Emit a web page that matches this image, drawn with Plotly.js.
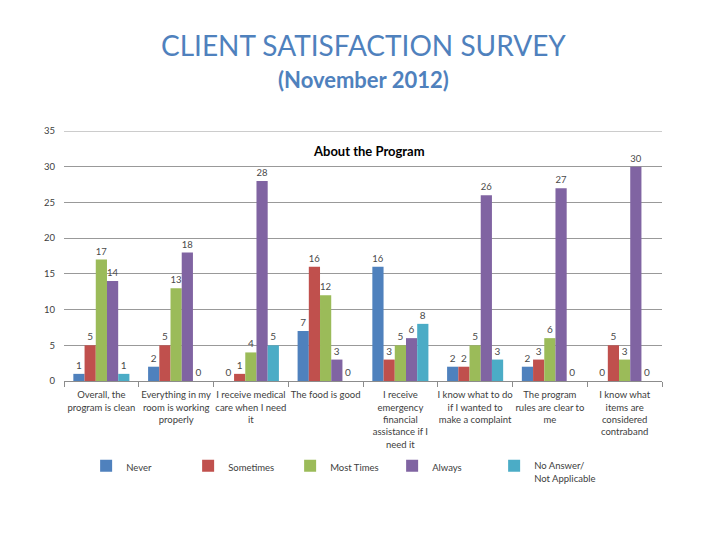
<!DOCTYPE html>
<html>
<head>
<meta charset="utf-8">
<script src="https://cdn.plot.ly/plotly-3.0.1.min.js"></script>
<style>
html,body{margin:0;padding:0;background:#fff;}
#chart{width:720px;height:540px;}
</style>
</head>
<body>
<div id="chart"></div>
<script>
const categories = [
  "Overall, the<br>program is clean",
  "Everything in my<br>room is working<br>properly",
  "I receive medical<br>care when I need<br>it",
  "The food is good",
  "I receive<br>emergency<br>financial<br>assistance if I<br>need it",
  "I know what to do<br>if I wanted to<br>make a complaint",
  "The program<br>rules are clear to<br>me",
  "I know what<br>items are<br>considered<br>contraband"
];
const seriesNames = ["Never", "Sometimes", "Most Times", "Always", "No Answer/<br>Not Applicable"];
const never      = [1, 2, 0, 7, 16, 2, 2, 0];
const sometimes  = [5, 5, 1, 16, 3, 2, 3, 5];
const mostTimes  = [17, 13, 4, 12, 5, 5, 6, 3];
const always     = [14, 18, 28, 3, 6, 26, 27, 30];
const noAnswer   = [1, 0, 5, 0, 8, 3, 0, 0];
const colors = ["#4F81BD", "#C0504D", "#9BBB59", "#8064A2", "#4BACC6"];
const yTicks = [0, 5, 10, 15, 20, 25, 30, 35];
const yMax = 35;

const allSeries = [never, sometimes, mostTimes, always, noAnswer];
const traces = allSeries.map((vals, i) => ({
  type: "bar",
  name: seriesNames[i],
  x: categories,
  y: vals,
  text: vals.map(String),
  textposition: "outside",
  cliponaxis: false,
  textfont: {family: "Lato, sans-serif", size: 10, color: "#4a4a4a"},
  marker: {color: colors[i]},
  hoverinfo: "x+y+name"
}));

const layout = {
  width: 720, height: 540,
  margin: {l: 64, r: 58, t: 131, b: 159},
  paper_bgcolor: "#fff", plot_bgcolor: "#fff",
  font: {family: "Lato, sans-serif", color: "#404040", size: 9},
  barmode: "group",
  bargap: 0.25,
  bargroupgap: 0,
  showlegend: true,
  legend: {
    orientation: "h", x: 0.037, xanchor: "left", y: -0.288, yanchor: "top",
    entrywidth: 57, entrywidthmode: "pixels",
    valign: "top",
    font: {family: "Lato, sans-serif", size: 9.5, color: "#404040"},
    itemwidth: 30, traceorder: "normal"
  },
  xaxis: {
    type: "category",
    tickson: "boundaries",
    ticks: "outside", ticklen: 5, tickcolor: "#8c8c8c",
    showline: true, linecolor: "#8c8c8c", linewidth: 1,
    showgrid: false,
    tickfont: {family: "Lato, sans-serif", size: 9.5, color: "#404040"},
    ticklabelstandoff: 5,
    tickangle: 0,
    automargin: false
  },
  yaxis: {
    range: [0, yMax],
    tickvals: yTicks,
    showgrid: true, gridcolor: "#999999", gridwidth: 1,
    zeroline: false,
    showline: false,
    ticks: "",
    ticklabelstandoff: 8,
    tickfont: {family: "Lato, sans-serif", size: 9.5, color: "#404040"},
    automargin: false
  },
  shapes: [
    {type: "line", xref: "paper", x0: 0, x1: 1, yref: "y", y0: yMax, y1: yMax,
     line: {color: "#999999", width: 1}, layer: "below"}
  ],
  annotations: [
    {text: "CLIENT SATISFACTION SURVEY", xref: "paper", yref: "paper", x: 0.5, xanchor: "center",
     y: (381 - 45) / 250, yanchor: "middle", showarrow: false,
     font: {family: "Lato, sans-serif", size: 28, color: "#4F81BD"}},
    {text: "<b>(November 2012)</b>", xref: "paper", yref: "paper", x: 0.5, xanchor: "center",
     y: (381 - 79) / 250, yanchor: "middle", showarrow: false,
     font: {family: "Lato, sans-serif", size: 22, color: "#4F81BD"}},
    {text: "<b>About the Program</b>", xref: "paper", yref: "paper", x: (369 - 64) / 598, xanchor: "center",
     y: (381 - 151) / 250, yanchor: "middle", showarrow: false,
     font: {family: "Lato, sans-serif", size: 13, color: "#000"}}
  ]
};

Plotly.newPlot("chart", traces, layout, {displayModeBar: false, staticPlot: true});
</script>
</body>
</html>
